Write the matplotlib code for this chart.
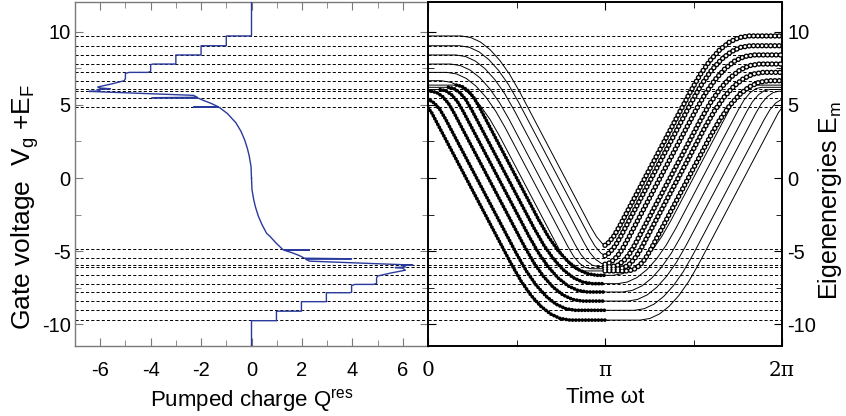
import numpy as np
import matplotlib
matplotlib.use("Agg")
import matplotlib.pyplot as plt
from matplotlib.ticker import MultipleLocator, FixedLocator

plt.rcParams['font.family'] = ['Liberation Sans', 'DejaVu Sans']
plt.rcParams['axes.unicode_minus'] = False
plt.rcParams['mathtext.default'] = 'regular'

# ---------------- data ----------------
# energy levels (dashed lines), symmetric about zero
levels_pos = [4.83, 5.49, 5.93, 6.10, 6.65, 7.22, 7.79, 8.41, 9.04, 9.71]
levels_neg = [-4.83, -5.49, -5.93, -6.10, -6.65, -7.22, -7.79, -8.41, -9.04, -9.71]

# pumped charge Q^res versus gate voltage (upper half, E >= 0)
q_pos = [0, -0.02, -0.09, -0.16, -0.27, -0.42, -0.62, -0.74, -0.95, -1.28,
         -2.3, -1.32, -1.6, -1.9, -2.1, -3.95, -2.15, -2.3, -6.45, -6.0,
         -6.1, -5.6, -6.0, -6.1, -5.5, -5.05, -5.0, -5.0, -4.85, -4.1,
         -4.0, -4.0, -3.9, -3.0, -3.0, -2.0, -2.0, -1.0, -1.0, 0.0, 0.0]
e_pos = [0, 0.8, 1.5, 2.0, 2.6, 3.2, 3.78, 4.0, 4.4, 4.83,
         4.85, 4.87, 5.1, 5.3, 5.45, 5.49, 5.52, 5.65, 5.92, 5.95,
         6.05, 6.1, 6.15, 6.22, 6.45, 6.65, 6.8, 7.15, 7.22, 7.22,
         7.3, 7.75, 7.79, 7.79, 8.41, 8.41, 9.04, 9.04, 9.71, 9.71, 12.1]
# lower half (E <= 0)
q_neg = [0, 0.02, 0.09, 0.16, 0.27, 0.42, 0.60, 0.74, 0.95, 1.25,
         2.3, 1.3, 1.6, 1.9, 2.1, 3.97, 2.15, 2.3, 6.4, 6.0,
         6.1, 5.7, 6.0, 6.1, 5.5, 5.0, 4.96, 4.96, 4.85, 4.1,
         3.97, 3.97, 3.9, 2.97, 2.97, 1.98, 1.98, 0.99, 0.99, 0.0, 0.0]
e_neg = [0, -0.8, -1.5, -2.0, -2.6, -3.2, -3.78, -4.0, -4.4, -4.9,
         -4.92, -4.94, -5.1, -5.3, -5.48, -5.52, -5.55, -5.68, -5.95, -5.98,
         -6.08, -6.12, -6.16, -6.3, -6.5, -6.7, -6.85, -7.2, -7.27, -7.27,
         -7.35, -7.8, -7.84, -7.84, -8.45, -8.45, -9.1, -9.1, -9.75, -9.75, -12.1]

# eigenenergies over half a period (t in units of pi, 0..1); curves are
# mirror-symmetric about t = pi
lower_t = [
    [0, 0.02, 0.472, 0.527, 0.582, 0.637, 0.692, 0.747, 0.802, 1.0],
    [0, 0.036, 0.069, 0.101, 0.503, 0.558, 0.613, 0.668, 0.723, 0.778, 0.833, 1.0],
    [0, 0.018, 0.050, 0.083, 0.116, 0.148, 0.542, 0.597, 0.652, 0.707, 0.762, 0.817, 0.872, 1.0],
    [0, 0.069, 0.101, 0.134, 0.167, 0.199, 0.571, 0.626, 0.681, 0.736, 0.791, 0.846, 0.901, 1.0],
    [0, 0.115, 0.148, 0.180, 0.213, 0.245, 0.599, 0.654, 0.709, 0.764, 0.819, 0.874, 0.929, 1.0],
    [0, 0.160, 0.192, 0.225, 0.258, 0.290, 0.625, 0.680, 0.735, 0.790, 0.845, 0.900, 0.955, 1.0],
]
lower_e = [
    [4.8, 4.48, -5.91, -7.07, -8.02, -8.76, -9.29, -9.60, -9.71, -9.71],
    [5.40, 5.12, 4.65, 3.99, -5.24, -6.40, -7.35, -8.09, -8.62, -8.93, -9.04, -9.04],
    [5.93, 5.93, 5.84, 5.56, 5.09, 4.43, -4.61, -5.77, -6.72, -7.46, -7.99, -8.30, -8.41, -8.41],
    [6.05, 6.05, 5.96, 5.68, 5.21, 4.55, -3.99, -5.15, -6.10, -6.84, -7.37, -7.68, -7.79, -7.79],
    [6.20, 6.20, 6.11, 5.83, 5.36, 4.70, -3.42, -4.58, -5.53, -6.27, -6.80, -7.11, -7.22, -7.22],
    [6.35, 6.35, 6.26, 5.98, 5.51, 4.85, -2.85, -4.01, -4.96, -5.70, -6.23, -6.54, -6.65, -6.65],
]
# index from which the filled beads start on each lower curve
lower_bead_start = [0, 0, 0, 1, 1, 1]

upper_t = [
    [0, 0.187, 0.242, 0.297, 0.352, 0.407, 0.462, 0.517, 0.920, 0.952, 0.985, 1.0],
    [0, 0.179, 0.234, 0.289, 0.344, 0.399, 0.454, 0.509, 0.911, 0.943, 0.976, 1.0],
    [0, 0.158, 0.213, 0.268, 0.323, 0.378, 0.433, 0.488, 0.882, 0.914, 0.947, 0.980, 1.0],
    [0, 0.129, 0.184, 0.239, 0.294, 0.349, 0.404, 0.459, 0.831, 0.863, 0.896, 0.929, 0.961, 1.0],
    [0, 0.107, 0.162, 0.217, 0.272, 0.327, 0.382, 0.437, 0.791, 0.823, 0.856, 0.889, 0.921, 1.0],
    [0, 0.075, 0.130, 0.185, 0.240, 0.295, 0.350, 0.405, 0.740, 0.772, 0.805, 0.838, 0.870, 1.0],
]
upper_e = [
    [9.71, 9.71, 9.60, 9.29, 8.76, 8.02, 7.07, 5.91, -3.35, -4.01, -4.48, -4.60],
    [9.04, 9.04, 8.93, 8.62, 8.09, 7.35, 6.40, 5.24, -3.99, -4.65, -5.12, -5.32],
    [8.41, 8.41, 8.30, 7.99, 7.46, 6.72, 5.77, 4.61, -4.43, -5.09, -5.56, -5.84, -5.89],
    [7.79, 7.79, 7.68, 7.37, 6.84, 6.10, 5.15, 3.99, -4.55, -5.21, -5.68, -5.96, -6.05, -6.05],
    [7.22, 7.22, 7.11, 6.80, 6.27, 5.53, 4.58, 3.42, -4.70, -5.36, -5.83, -6.11, -6.20, -6.20],
    [6.65, 6.65, 6.54, 6.23, 5.70, 4.96, 4.01, 2.85, -4.85, -5.51, -5.98, -6.26, -6.35, -6.35],
]

xticks_left = [-6, -4, -2, 0, 2, 4, 6]
yticks = [-10, -5, 0, 5, 10]
xticks_right_labels = ['0', 'π', '2π']

# ---------------- figure ----------------
W, H = 846, 416
fig = plt.figure(figsize=(W / 100, H / 100), dpi=100)
axL = fig.add_axes([75/W, 70/H, 353/W, 344/H])
axR = fig.add_axes([428/W, 70/H, 354/W, 344/H])

ylim = (-11.48, 12.03)
blue = '#2a3a9c'
gray = '#7a7a7a'
dash = (0, (3.2, 2.2))
TICK_FS = 14.5
LABEL_FS = 16
YLABEL_FS = 19

for ax in (axL, axR):
    for lv in levels_pos + levels_neg:
        ax.axhline(lv, color='k', lw=0.7, ls=dash, zorder=1)
    ax.set_ylim(*ylim)

# left panel
axL.plot(q_pos, e_pos, color=blue, lw=1.0, zorder=3)
axL.plot(q_neg, e_neg, color=blue, lw=1.0, zorder=3)
axL.set_xlim(-7, 7)
axL.set_xticks(xticks_left)
axL.xaxis.set_minor_locator(MultipleLocator(1))
axL.set_yticks(yticks)
axL.yaxis.set_minor_locator(MultipleLocator(2.5))
axL.tick_params(which='both', direction='in', top=True, right=True,
                color=gray, labelsize=TICK_FS)
axL.tick_params(axis='x', which='both', pad=11)
axL.tick_params(axis='y', which='both', pad=3)
axL.tick_params(which='major', length=6)
axL.tick_params(which='minor', length=4)
for sp in axL.spines.values():
    sp.set_color(gray)
    sp.set_linewidth(1.0)
axL.set_xlabel('Pumped charge Q$^{res}$', fontsize=LABEL_FS, labelpad=5)
fig.text(25/W, 1 - 207/H, 'Gate voltage  V$_g$ +E$_F$', rotation=90,
         ha='center', va='center', fontsize=YLABEL_FS)

# right panel
def mirror(t, e):
    tt = [v * np.pi for v in t] + [(2 - v) * np.pi for v in reversed(t[:-1])]
    ee = list(e) + list(reversed(e[:-1]))
    return tt, ee

def beads_filled(ax, t, e):
    ax.plot(t, e, color='k', lw=2.7, ls=(0, (0.01, 0.85)),
            dash_capstyle='round', zorder=4)

def beads_open(ax, t, e):
    lw_o, lw_i, per = 3.9, 2.0, 0.78
    ax.plot(t, e, color='k', lw=lw_o, ls=(0, (0.01, per)),
            dash_capstyle='round', zorder=5)
    ax.plot(t, e, color='white', lw=lw_i,
            ls=(0, (0.01 * lw_o / lw_i, per * lw_o / lw_i)),
            dash_capstyle='round', zorder=6)

for t, e, s in zip(lower_t, lower_e, lower_bead_start):
    tt, ee = mirror(t, e)
    axR.plot(tt, ee, color='k', lw=0.7, zorder=3)
    beads_filled(axR, [v * np.pi for v in t[s:]], e[s:])

for t, e in zip(upper_t, upper_e):
    tt, ee = mirror(t, e)
    axR.plot(tt, ee, color='k', lw=0.7, zorder=3)
    n = len(t)
    beads_open(axR, tt[n - 1:], ee[n - 1:])

axR.set_xlim(0, 2 * np.pi)
axR.set_xticks([0, np.pi, 2 * np.pi])
axR.set_xticklabels(xticks_right_labels, fontfamily=['DejaVu Serif'])
axR.xaxis.set_minor_locator(FixedLocator([np.pi / 2, 3 * np.pi / 2]))
axR.set_yticks(yticks)
axR.yaxis.set_minor_locator(MultipleLocator(2.5))
axR.tick_params(which='both', direction='in', top=True, right=True,
                left=True, labelleft=False, labelright=True,
                labelsize=TICK_FS)
axR.tick_params(axis='x', which='both', pad=11)
axR.tick_params(axis='y', which='both', pad=4)
axR.tick_params(which='major', length=6)
axR.tick_params(which='minor', length=4)
for sp in axR.spines.values():
    sp.set_linewidth(1.4)
axR.set_xlabel('Time ωt', fontsize=LABEL_FS, labelpad=5)
fig.text(830/W, 1 - 200/H, 'Eigenenergies E$_m$', rotation=90,
         ha='center', va='center', fontsize=18)

fig.savefig('out.png', dpi=100)
